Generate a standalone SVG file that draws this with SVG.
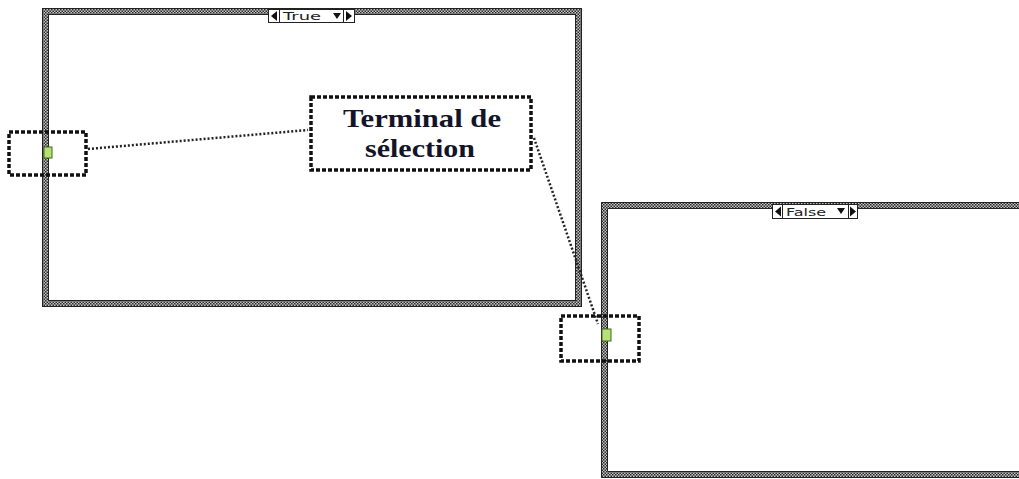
<svg xmlns="http://www.w3.org/2000/svg" width="1019" height="479" viewBox="0 0 1019 479">
<defs>
<pattern id="chk" width="3" height="3" patternUnits="userSpaceOnUse">
<rect width="3" height="3" fill="#c4c4c4"/>
<rect width="1.5" height="1.5" fill="#2a2a2a"/>
<rect x="1.5" y="1.5" width="1.5" height="1.5" fill="#2a2a2a"/>
</pattern>
<style>
.band{fill:url(#chk);}
.edge{fill:none;stroke:#222;stroke-width:1;}
.sel{fill:#fff;stroke:#222;stroke-width:1;}
.arr{fill:#111;}
.seltxt{font-family:"DejaVu Sans",sans-serif;font-size:11px;fill:#222;}
.dbox{fill:none;stroke:#111;stroke-width:3.5;stroke-dasharray:4 2;}
.dline{fill:none;stroke:#222;stroke-width:2.5;stroke-dasharray:2 2;}
.term{fill:#b8e07a;stroke:#3a6a10;stroke-width:1;}
.lbl{font-family:"Liberation Serif","Times New Roman",serif;font-weight:bold;font-size:25px;fill:#141428;}
</style>
</defs>
<rect width="1019" height="479" fill="#fff"/>
<g id="case-true">
<path class="band" fill-rule="evenodd" d="M42 8H582V307H42Z M48 14V301H576V14Z"/>
<rect class="edge" x="42.5" y="8.5" width="539" height="298"/>
<rect class="edge" x="48.5" y="14.5" width="527" height="286"/>
<rect class="sel" x="268.5" y="9.5" width="86" height="13"/>
<line class="edge" x1="279.5" y1="9.5" x2="279.5" y2="22.5"/>
<line class="edge" x1="343.5" y1="9.5" x2="343.5" y2="22.5"/>
<polygon class="arr" points="271,16 277,11 277,21"/>
<polygon class="arr" points="352,16 346,11 346,21"/>
<polygon class="arr" points="333,13 341,13 337,19"/>
<text class="seltxt" x="283" y="20" textLength="38" lengthAdjust="spacingAndGlyphs">True</text>
</g>
<g id="case-false">
<path class="band" fill-rule="evenodd" d="M601 202H1025V478H601Z M607 208V472H1025V208Z"/>
<path class="edge" d="M1025 202.5H601.5V477.5H1025"/>
<path class="edge" d="M1025 208.5H607.5V471.5H1025"/>
<rect class="sel" x="772.5" y="204.5" width="85" height="14"/>
<line class="edge" x1="782.5" y1="204.5" x2="782.5" y2="218.5"/>
<line class="edge" x1="848.5" y1="204.5" x2="848.5" y2="218.5"/>
<polygon class="arr" points="775,211.5 781,206.5 781,216.5"/>
<polygon class="arr" points="856,211.5 850,206.5 850,216.5"/>
<polygon class="arr" points="837,208 845,208 841,214"/>
<text class="seltxt" x="786" y="215.5" textLength="40" lengthAdjust="spacingAndGlyphs">False</text>
</g>
<g id="term-left">
<rect class="term" x="44" y="147" width="8" height="11"/>
<rect class="dbox" x="9" y="132" width="77" height="43"/>
</g>
<g id="term-right">
<rect class="term" x="602" y="329" width="9" height="12"/>
<rect class="dbox" x="561" y="316" width="78" height="45"/>
</g>
<g id="label">
<rect class="dbox" x="311" y="97" width="220" height="73"/>
<text class="lbl" x="343" y="127" textLength="158" lengthAdjust="spacingAndGlyphs">Terminal de</text>
<text class="lbl" x="365" y="157" textLength="110" lengthAdjust="spacingAndGlyphs">sélection</text>
</g>
<g id="connectors">
<line class="dline" x1="88" y1="149" x2="308" y2="130"/>
<line class="dline" x1="534" y1="138" x2="598" y2="324"/>
</g>
</svg>
